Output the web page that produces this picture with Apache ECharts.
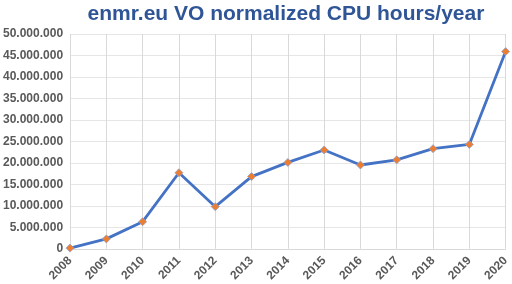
<!DOCTYPE html>
<html lang="en">
<head>
<meta charset="UTF-8">
<title>enmr.eu VO normalized CPU hours/year</title>
<script src="https://cdn.jsdelivr.net/npm/echarts@6/dist/echarts.min.js"></script>
<style>
  html, body { margin: 0; padding: 0; background: #fff; }
  #main { width: 512px; height: 284px; }
</style>
</head>
<body>
<div id="main"></div>
<script>
var years = ['2008','2009','2010','2011','2012','2013','2014','2015','2016','2017','2018','2019','2020'];
var cpuHours = [150000, 2300000, 6300000, 17700000, 9800000, 16800000, 20100000, 23000000, 19500000, 20700000, 23300000, 24300000, 45900000];

function fmt(v) {
    return String(v).replace(/\B(?=(\d{3})+(?!\d))/g, '.');
}

var chart = echarts.init(document.getElementById('main'));
chart.setOption({
    animation: false,
    title: {
        text: 'enmr.eu VO normalized CPU hours/year',
        left: 281,
        textAlign: 'center',
        top: -1,
        textStyle: { fontFamily: 'Liberation Sans', fontWeight: 'bold', fontSize: 21, color: '#2f5597' }
    },
    grid: { left: 69, right: 6, top: 34, bottom: 35 },
    xAxis: {
        type: 'category',
        data: years,
        boundaryGap: false,
        axisLine: { lineStyle: { color: '#d9d9d9' } },
        axisTick: { show: false },
        splitLine: { show: true, lineStyle: { color: '#d9d9d9', width: 1 } },
        axisLabel: {
            rotate: 45, margin: 10,
            fontFamily: 'Liberation Sans', fontWeight: 'bold', fontSize: 12, color: '#595959'
        }
    },
    yAxis: {
        type: 'value',
        min: 0, max: 50000000, interval: 5000000,
        axisLine: { show: false },
        axisTick: { show: false },
        splitLine: { lineStyle: { color: '#e6e6e6' } },
        axisLabel: {
            formatter: fmt, margin: 7,
            fontFamily: 'Liberation Sans', fontWeight: 'bold', fontSize: 12, color: '#595959'
        }
    },
    series: [{
        type: 'line',
        data: cpuHours,
        symbol: 'diamond',
        symbolSize: 8,
        lineStyle: { color: '#4472c4', width: 2.8 },
        itemStyle: { color: '#ed7d31', borderColor: '#8da0c8', borderWidth: 0.8 }
    }]
});
</script>
</body>
</html>
